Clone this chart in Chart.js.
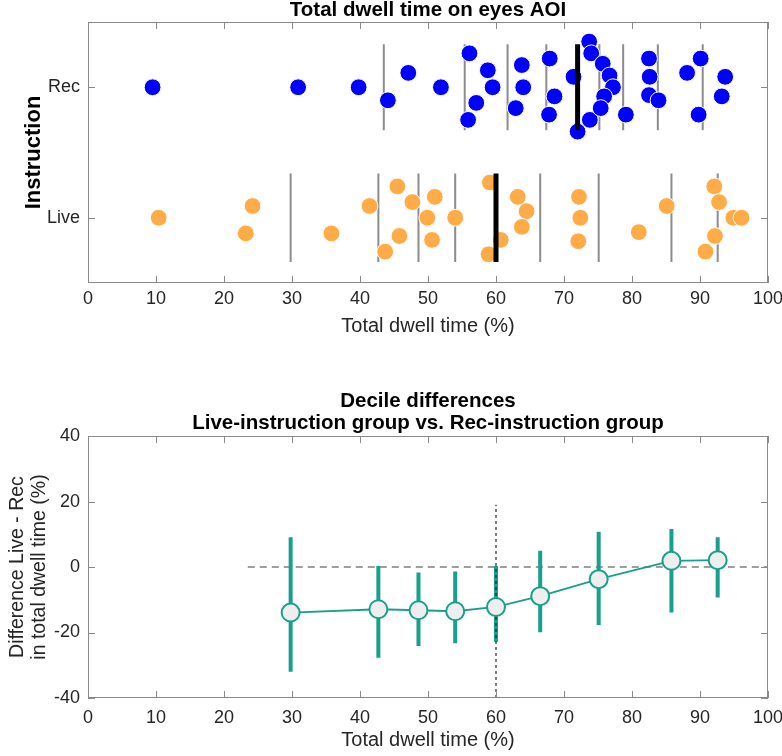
<!DOCTYPE html>
<html>
<head>
<meta charset="utf-8">
<script src="https://cdn.jsdelivr.net/npm/chart.js@4.4.1/dist/chart.umd.min.js"></script>
<style>
    html, body { margin: 0; padding: 0; background: #fff; }
    .panel { position: absolute; left: 0; }
</style>
</head>
<body>
<div class="panel" style="top:0"><canvas id="swarmChart" width="782" height="345"></canvas></div>
<div class="panel" style="top:345px"><canvas id="diffChart" width="782" height="411"></canvas></div>
<script>
// groups on the y axis: Live = 1, Rec = 2
const groups = ['Live', 'Rec'];

// Rec-instruction group: dwell time (%) and swarm offset from the group line
const recDwell = [9.5, 30.9, 39.8, 44.1, 47.1, 51.9, 56.1, 55.9, 57.1, 58.8, 59.5, 62.9, 63.8, 64.0, 67.9, 68.6, 67.8, 71.4, 72.0,
    73.7, 74.0, 73.8, 75.7, 76.7, 77.2, 75.9, 75.4, 79.1, 82.5, 82.6, 82.5, 83.9, 88.1, 90.1, 89.8, 93.7, 93.2];
const recJitter = [0, 0, 0, -0.10, 0.11, 0, 0.26, -0.25, -0.12, 0.13, 0, -0.16, 0.17, 0, 0.22, -0.07, -0.21, 0.08, -0.34,
    0.35, 0.26, -0.25, 0.18, 0.09, 0, -0.07, -0.16, -0.21, 0.22, 0.08, -0.06, -0.10, 0.11, 0.22, -0.21, 0.08, -0.07];

// Live-instruction group
const liveDwell = [10.4, 24.2, 23.2, 35.8, 41.4, 45.5, 47.7, 45.8, 43.7, 51.0, 49.9, 50.6, 54.0, 59.1, 60.7, 58.9, 63.2, 64.5,
    63.8, 72.2, 72.4, 72.1, 81.0, 85.1, 92.1, 92.8, 94.9, 96.1, 92.2, 90.8];
const liveJitter = [0, 0.09, -0.12, -0.12, 0.09, 0.24, 0.12, -0.14, -0.26, 0.16, 0, -0.17, 0, 0.27, -0.17, -0.28, 0.16, 0.05,
    -0.07, 0.16, 0, -0.18, -0.11, 0.09, 0.24, 0.12, 0, 0, -0.14, -0.26];

// deciles (10%..90%), the 5th one is the median
const recDeciles = [43.5, 55.4, 61.7, 67.4, 72.0, 75.2, 78.7, 83.8, 90.4];
const liveDeciles = [29.8, 42.7, 48.6, 54.0, 60.0, 66.5, 75.1, 85.8, 92.6];

// decile differences Live - Rec with confidence bounds
const diffValues = [-13.9, -12.9, -13.2, -13.5, -12.2, -8.9, -3.7, 1.9, 2.1];
const diffLow = [-32.0, -27.7, -24.1, -23.3, -22.8, -19.9, -17.7, -13.9, -9.3];
const diffHigh = [9.1, 0.3, -1.7, -1.4, 0.3, 5.0, 10.8, 11.6, 9.1];

// reference lines in the lower panel
const zeroLineX = [23.5, 100];
const medianMarkX = 60;
const medianMarkY = [-40, 19];

const xTicks = [0, 10, 20, 30, 40, 50, 60, 70, 80, 90, 100];
const diffTicks = [-40, -20, 0, 20, 40];

const fontFamily = "'Liberation Sans', Arial, Helvetica, sans-serif";
const textColor = '#262626';
const axisGray = '#8a8a8a';
const blue = '#0000ff';
const orange = '#ffab47';
const teal = '#17a08b';

Chart.defaults.font.family = fontFamily;
Chart.defaults.color = textColor;

// vertical segments separated by gaps
function verticalSegments(xs, centre, half) {
    const out = [];
    xs.forEach(x => {
        out.push({ x: x, y: centre - half }, { x: x, y: centre + half }, { x: x, y: null });
    });
    return out;
}

// box round the plot area with inward tick marks on all four sides
const boxFrame = {
    id: 'boxFrame',
    afterDraw(chart) {
        const { ctx, chartArea: a } = chart;
        const x = chart.scales.x;
        const y = chart.scales.y;
        const len = 7;
        ctx.save();
        ctx.strokeStyle = axisGray;
        ctx.lineWidth = 1;
        ctx.strokeRect(Math.round(a.left) + 0.5, Math.round(a.top) + 0.5,
            Math.round(a.width) - 1, Math.round(a.height) - 1);
        ctx.beginPath();
        x.ticks.forEach(t => {
            const px = Math.round(x.getPixelForValue(t.value)) + 0.5;
            ctx.moveTo(px, a.bottom); ctx.lineTo(px, a.bottom - len);
            ctx.moveTo(px, a.top); ctx.lineTo(px, a.top + len);
        });
        y.ticks.forEach(t => {
            const py = Math.round(y.getPixelForValue(t.value)) + 0.5;
            ctx.moveTo(a.left, py); ctx.lineTo(a.left + len, py);
            ctx.moveTo(a.right, py); ctx.lineTo(a.right - len, py);
        });
        ctx.stroke();
        ctx.restore();
    }
};

const xScale = (height, tickPad, titlePad) => ({
    type: 'linear',
    min: 0,
    max: 100,
    afterBuildTicks: s => { s.ticks = xTicks.map(v => ({ value: v })); },
    ticks: { padding: tickPad, maxRotation: 0, font: { size: 18 }, color: textColor },
    grid: { display: false, drawTicks: false },
    border: { display: false },
    title: {
        display: true,
        text: 'Total dwell time (%)',
        font: { size: 20 },
        color: textColor,
        padding: { top: 0, bottom: titlePad }
    },
    afterFit: s => {
        s.height = height;
        s.paddingLeft = 0;
        s.paddingRight = 0;
    }
});

// upper panel: swarm of both groups
new Chart(document.getElementById('swarmChart'), {
    type: 'scatter',
    data: {
        datasets: [
            {
                label: 'medians',
                data: verticalSegments([recDeciles[4]], 2, 0.33).concat(verticalSegments([liveDeciles[4]], 1, 0.34)),
                showLine: true,
                pointRadius: 0,
                borderColor: '#000',
                borderWidth: 5,
                borderCapStyle: 'butt',
                order: 0
            },
            {
                label: 'Rec',
                data: recDwell.map((v, i) => ({ x: v, y: 2 + recJitter[i] })),
                pointRadius: 8.4,
                pointBackgroundColor: blue,
                pointBorderColor: '#fff',
                pointBorderWidth: 1,
                order: 1
            },
            {
                label: 'Live',
                data: liveDwell.map((v, i) => ({ x: v, y: 1 + liveJitter[i] })),
                pointRadius: 8.4,
                pointBackgroundColor: orange,
                pointBorderColor: '#fff',
                pointBorderWidth: 1,
                order: 1
            },
            {
                label: 'deciles',
                data: verticalSegments(recDeciles.filter((d, i) => i !== 4), 2, 0.33)
                    .concat(verticalSegments(liveDeciles.filter((d, i) => i !== 4), 1, 0.34)),
                showLine: true,
                pointRadius: 0,
                borderColor: '#8c8c8c',
                borderWidth: 2,
                borderCapStyle: 'butt',
                order: 2
            }
        ]
    },
    options: {
        responsive: false,
        animation: false,
        events: [],
        layout: { padding: { left: 0, right: 14, top: 0, bottom: 0 } },
        plugins: {
            legend: { display: false },
            tooltip: { enabled: false },
            title: {
                display: true,
                fullSize: false,
                text: 'Total dwell time on eyes AOI',
                font: { size: 20.5, weight: 'bold', lineHeight: 1.0 },
                color: '#000',
                padding: { top: 0, bottom: 1.5 }
            }
        },
        scales: {
            x: xScale(62, 5, 7),
            y: {
                type: 'linear',
                min: 0.5,
                max: 2.5,
                afterBuildTicks: s => { s.ticks = [{ value: 1 }, { value: 2 }]; },
                ticks: {
                    padding: 8,
                    font: { size: 18 },
                    color: textColor,
                    callback: v => groups[v - 1]
                },
                grid: { display: false, drawTicks: false },
                border: { display: false },
                title: {
                    display: true,
                    text: 'Instruction',
                    font: { size: 22, weight: 'bold' },
                    color: '#000',
                    padding: { top: 21, bottom: 0 }
                },
                afterFit: s => { s.width = 88; }
            }
        }
    },
    plugins: [boxFrame]
});

// lower panel: decile differences
const errorBars = [];
liveDeciles.forEach((x, i) => {
    errorBars.push({ x: x, y: diffLow[i] }, { x: x, y: diffHigh[i] }, { x: x, y: null });
});

new Chart(document.getElementById('diffChart'), {
    type: 'scatter',
    data: {
        datasets: [
            {
                label: 'difference',
                data: liveDeciles.map((x, i) => ({ x: x, y: diffValues[i] })),
                showLine: true,
                borderColor: teal,
                borderWidth: 1.8,
                pointRadius: 9,
                pointBackgroundColor: '#eeeeee',
                pointBorderColor: teal,
                pointBorderWidth: 2,
                order: 1
            },
            {
                label: 'median',
                data: medianMarkY.map(y => ({ x: medianMarkX, y: y })),
                showLine: true,
                pointRadius: 0,
                borderColor: '#000',
                borderWidth: 1,
                borderDash: [3, 3],
                order: 2
            },
            {
                label: 'bounds',
                data: errorBars,
                showLine: true,
                pointRadius: 0,
                borderColor: teal,
                borderWidth: 4,
                borderCapStyle: 'butt',
                order: 3
            },
            {
                label: 'zero',
                data: zeroLineX.map(x => ({ x: x, y: 0 })),
                showLine: true,
                pointRadius: 0,
                borderColor: '#7f7f7f',
                borderWidth: 1.5,
                borderDash: [7, 5],
                order: 4
            }
        ]
    },
    options: {
        responsive: false,
        animation: false,
        events: [],
        layout: { padding: { left: 0, right: 14, top: 46, bottom: 0 } },
        plugins: {
            legend: { display: false },
            tooltip: { enabled: false },
            title: {
                display: true,
                fullSize: false,
                text: ['Decile differences', 'Live-instruction group vs. Rec-instruction group'],
                font: { size: 20.5, weight: 'bold', lineHeight: 1.05 },
                color: '#000',
                padding: { top: 0, bottom: 2 }
            }
        },
        scales: {
            x: xScale(58, 9, 4),
            y: {
                type: 'linear',
                min: -40,
                max: 40,
                afterBuildTicks: s => { s.ticks = diffTicks.map(v => ({ value: v })); },
                ticks: { padding: 8, font: { size: 18 }, color: textColor },
                grid: { display: false, drawTicks: false },
                border: { display: false },
                title: {
                    display: true,
                    text: ['Difference Live - Rec', 'in total dwell time (%)'],
                    font: { size: 19.5, lineHeight: 1.12 },
                    color: textColor,
                    padding: { top: 7, bottom: 0 }
                },
                afterFit: s => { s.width = 88; }
            }
        }
    },
    plugins: [boxFrame]
});
</script>
</body>
</html>
